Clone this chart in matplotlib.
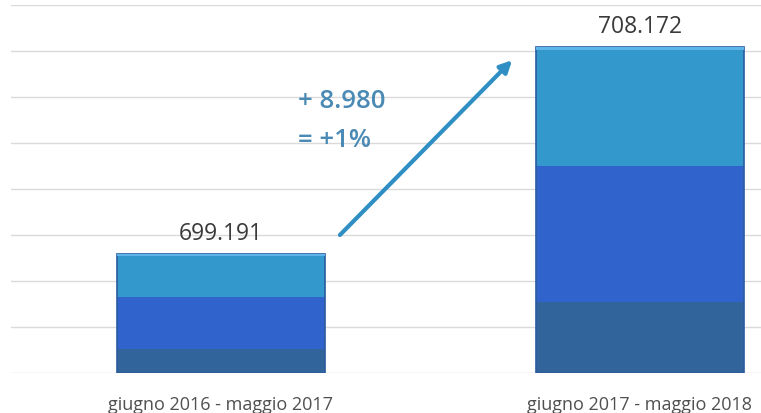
import matplotlib.pyplot as plt

# periods and totals (thousands)
periods = ["giugno 2016 - maggio 2017", "giugno 2017 - maggio 2018"]
totals = [699.191, 708.172]
# boundaries of the shaded bands inside each bar
band_low = [695.05, 697.1]
band_mid = [697.3, 703.0]
axis_min = 694
axis_max = 710
delta_lines = ["+ 8.980", "= +1%"]
value_labels = ["699.191", "708.172"]

c_dark = "#30649a"
c_mid = "#3064cc"
c_light = "#3399cc"

fig = plt.figure(figsize=(7.61, 4.14), dpi=100)
ax = fig.add_axes([11 / 761, 40 / 414, 750 / 761, 368 / 414])

x = [0, 1]
w = 0.496
bottoms = [axis_min] * 2
low_h = [b - axis_min for b in band_low]
mid_h = [m - b for m, b in zip(band_mid, band_low)]
top_h = [t - m for t, m in zip(totals, band_mid)]

ax.bar(x, low_h, w, bottom=bottoms, color=c_dark, zorder=3)
ax.bar(x, mid_h, w, bottom=band_low, color=c_mid, zorder=3)
ax.bar(x, top_h, w, bottom=band_mid, color=c_light, zorder=3)
# outline + thin highlight on top
ax.bar(x, [t - axis_min for t in totals], w, bottom=bottoms, fill=False,
       edgecolor="#2b5b9e", linewidth=1.2, zorder=4)
ax.bar(x, [0.12] * 2, w, bottom=[t - 0.12 for t in totals], color="#5fb4ea", zorder=4)

for xi, t, lab in zip(x, totals, value_labels):
    ax.text(xi, t + 0.9, lab, ha="center", va="center", fontsize=16.5,
            color="#3a3a3a", family="Open Sans")

ax.annotate("", xy=(0.695, 707.6), xytext=(0.284, 700.0),
            arrowprops=dict(arrowstyle="-|>,head_length=0.7,head_width=0.35",
                            color="#2f8fc4", lw=3, shrinkA=0, shrinkB=0), zorder=5)
for i, line in enumerate(delta_lines):
    ax.text(0.184, 705.83 - i * 1.66, line, ha="left", va="center", fontsize=18.5,
            color="#4a8ab4", family="Open Sans", fontweight="semibold")

ax.set_xlim(-0.501, 1.289)
ax.set_ylim(axis_min, axis_max)
ax.set_yticks(range(axis_min, axis_max + 1, 2))
ax.yaxis.grid(True, color="#dadada", linewidth=1)
ax.set_axisbelow(True)
ax.tick_params(left=False, labelleft=False, bottom=False)
ax.set_xticks(x)
ax.set_xticklabels(periods, fontsize=13, color="#505050", family="Open Sans")
ax.tick_params(axis="x", pad=12)
for s in ax.spines.values():
    s.set_visible(False)

fig.savefig("out.png", dpi=100)
